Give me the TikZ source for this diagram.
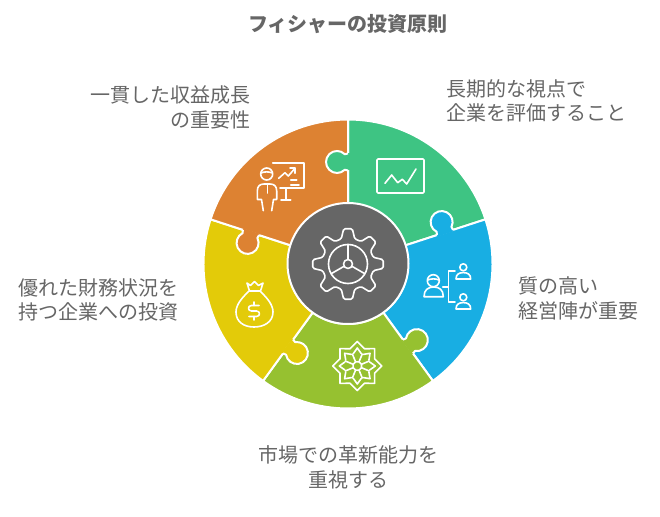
\documentclass[tikz,border=0pt]{standalone}
\usepackage{fontspec}
\setmainfont{Noto Sans CJK JP}
\definecolor{cgreen}{HTML}{3EC483}
\definecolor{cblue}{HTML}{18AEE3}
\definecolor{clime}{HTML}{96C130}
\definecolor{cyellow}{HTML}{E3CB09}
\definecolor{corange}{HTML}{DD8232}
\definecolor{chub}{HTML}{666666}
\tikzset{
  piece/.style={draw=white,line width=2pt,line join=round},
  icon/.style={draw=white,line width=1.6pt,line join=round,line cap=round},
  label/.style={text=chub,inner sep=0pt,font=\fontsize{20}{24.5}\selectfont}
}

\begin{document}
\begin{tikzpicture}[x=1pt,y=1pt]
  \useasboundingbox (-348,-252) rectangle (312,264);

  % Sectores
  \foreach \ang/\col in {90/cgreen,18/cblue,-54/clime,-126/cyellow,162/corange}{
    \draw[piece,fill=\col] (\ang:60) -- (\ang:144.5)
      arc[start angle=\ang,end angle=\ang-72,radius=144.5]
      -- ({\ang-72}:60) arc[start angle=\ang-72,end angle=\ang,radius=60] -- cycle;
  }

  % Lengüetas
  \foreach \ang/\col in {90/cgreen,18/cblue,-54/clime,-126/cyellow,162/corange}{
    \begin{scope}[rotate=\ang-90]
      \fill[\col] (-4,93.5) rectangle (1.5,110.5);
      \draw[piece,fill=\col] (0,110.5) -- (-3.2,109.8)
        arc[start angle=45,end angle=315,radius=11] -- (0,93.5);
    \end{scope}
  }

  % Centro
  \node[circle,fill=chub,draw=white,line width=2pt,minimum size=121pt,inner sep=0pt] (hub) at (0,0.5) {};

  % Engranaje
  \draw[icon,rounded corners=1.5pt] (-22.5:26)
    \foreach \a in {0,45,...,315}{ -- ({\a-15}:26) -- ({\a-7}:35.5) -- ({\a+7}:35.5) -- ({\a+15}:26) } -- cycle;
  \draw[icon] (0,0) circle[radius=19.5];
  \draw[icon] (0,0) circle[radius=4.5];
  \foreach \a in {90,210,330}{
    \draw[icon] (\a:4.5) -- (\a:19.5);
  }

  \begin{scope}[shift={(-348,264)},y=-1pt]
    % Textos
    \node[font=\fontsize{20}{24}\selectfont\bfseries,text=chub,inner sep=0pt] (title) at (348,24) {フィシャーの投資原則};
    \node[label,anchor=east,align=right] (growth) at (251,107.5) {一貫した収益成長\\の重要性};
    \node[label,anchor=west,align=left] (view) at (446,101) {長期的な視点で\\企業を評価すること};
    \node[label,anchor=west,align=left] (mgmt) at (518,298.5) {質の高い\\経営陣が重要};
    \node[label,align=center] (innov) at (348,467.5) {市場での革新能力を\\重視する};
    \node[label,anchor=east,align=right] (finance) at (179,300) {優れた財務状況を\\持つ企業への投資};

    % Presentador
    \draw[icon] (266.7,174) circle[radius=6];
    \draw[icon] (261,173) .. controls (264,171.5) and (269,171.5) .. (272.4,173);
    \draw[icon] (263.3,210.7) -- (261.5,199.5) -- (257.3,199.5) -- (257.3,191) .. controls (257.3,186) and (260,184) .. (264,184) -- (270,184) .. controls (274,184) and (276.7,186) .. (276.7,191) -- (276.7,199.5) -- (273.5,199.5) -- (271.7,210.7);
    \draw[icon] (267.5,185) -- (267.5,193);
    \draw[icon] (272.7,163.3) -- (304,163.3) -- (304,188.3) -- (280,188.3);
    \draw[icon] (286,188.3) -- (286,200);
    \draw[icon] (281,200) -- (290.7,200);
    \draw[icon] (278.7,178.3) -- (285,172.7) -- (288.3,176) -- (295,168.3);
    \draw[icon] (290,168.3) -- (295,168.3) -- (295,173.3);
    \draw[icon] (290.7,180) -- (296.7,180);
    \draw[icon] (290.7,185) -- (299,185);

    % Tendencia
    \draw[icon,rounded corners=1pt] (377,159) rectangle (424,193);
    \draw[icon] (385,183.3) -- (391.7,175) -- (397.7,182.7) -- (402.3,179.3) -- (406.7,184) -- (416,169);

    % Personas
    \draw[icon] (433.3,280.7) circle[radius=6];
    \draw[icon] (427.8,280) .. controls (431,278.5) and (436,278.5) .. (438.8,280);
    \draw[icon] (424,296.7) .. controls (424,290) and (428,287) .. (433.7,287) .. controls (439.5,287) and (443.3,290) .. (443.3,296.7) -- cycle;
    \draw[icon] (442.7,286.7) -- (448.3,286.7);
    \draw[icon] (455,271) -- (448.3,271) -- (448.3,301.7) -- (455,301.7);
    \foreach \py in {267.3,297.3}{
      \draw[icon] (463.3,\py) circle[radius=3.5];
      \draw[icon] (456,\py+11.7) .. controls (456,\py+7) and (459,\py+5.3) .. (463.3,\py+5.3) .. controls (467.6,\py+5.3) and (470.7,\py+7) .. (470.7,\py+11.7) -- cycle;
    }

    % Estrella
    \begin{scope}[shift={(357.3,366)}]
      \draw[icon] (0:24.5) \foreach \a in {45,90,...,315}{ -- ({\a-22.5}:18.7) -- (\a:24.5) } -- (337.5:18.7) -- cycle;
      \draw[icon] (22.5:4.5) \foreach \a in {67.5,112.5,...,337.5}{ -- (\a:4.5) } -- cycle;
      \foreach \a in {0,45,...,315}{
        \draw[icon] ({\a+22.5}:4.5) -- ({\a+22.5}:13);
        \draw[icon] ({\a-18}:13) -- ({\a}:18) -- ({\a+18}:13);
      }
    \end{scope}

    % Bolsa
    \draw[icon] (247,283) -- (250.5,285.5) -- (254.5,281.5) -- (258.5,285.5) -- (263,283) -- (260.5,291) -- (249.5,291) -- cycle;
    \draw[icon] (249,291) .. controls (243,297) and (236,304) .. (236,312) .. controls (236,322) and (244,327) .. (254,327) .. controls (264,327) and (273,322) .. (273,312) .. controls (273,304) and (266,297) .. (260,291);
    \draw[icon] (259,305.5) -- (251.5,305.5) .. controls (247.5,305.5) and (247.5,311) .. (251.5,311) -- (256.5,311) .. controls (260.5,311) and (260.5,316.5) .. (256.5,316.5) -- (249,316.5);
    \draw[icon] (254,302) -- (254,305.5);
    \draw[icon] (254,316.5) -- (254,320);
  \end{scope}
\end{tikzpicture}
\end{document}
